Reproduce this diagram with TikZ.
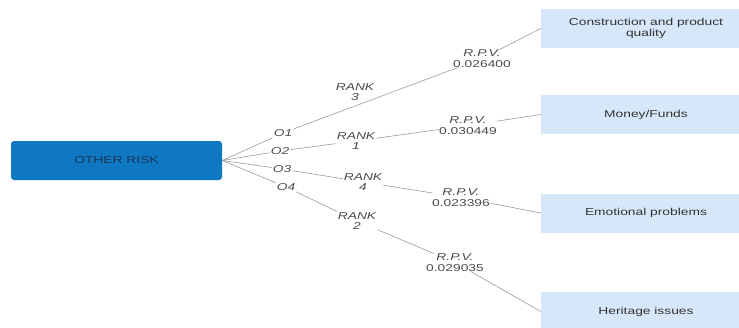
\documentclass[tikz,border=0pt]{standalone}
\usepackage{fontspec}
\setmainfont[FakeStretch=1.38]{Liberation Sans}
\definecolor{rootblue}{HTML}{0F78C2}
\definecolor{roottext}{HTML}{1B3555}
\definecolor{leafblue}{HTML}{D6E7F9}
\definecolor{txt}{HTML}{333333}
\definecolor{lbl}{HTML}{4A4A4A}
\definecolor{conn}{HTML}{9A9A9A}
\begin{document}
\begin{tikzpicture}[x=1pt,y=-1pt,
  every node/.style={font=\fontsize{10}{10.5}\selectfont},
  rootbox/.style={rectangle,rounded corners=3pt,fill=rootblue,text=roottext,minimum width=211pt,minimum height=39pt},
  leaf/.style={rectangle,fill=leafblue,text=txt,minimum width=210pt,minimum height=39pt,align=center},
  olabel/.style={text=lbl,inner sep=1pt,font=\fontsize{10}{10.5}\selectfont\itshape},
  ranklabel/.style={text=lbl,inner sep=1pt,align=center,font=\fontsize{10}{10.5}\selectfont\itshape},
  rpvlabel/.style={text=lbl,inner sep=0pt,align=center},
  connector/.style={draw=conn,line width=0.6pt}]
\useasboundingbox (0,0) rectangle (739,327);
\node[rootbox] (root) at (116.5,160.5) {OTHER RISK};
\node[leaf] (b1) at (646,28.5) {Construction and product\\quality};
\node[leaf] (b2) at (646,114.5) {Money/Funds};
\node[leaf] (b3) at (646,213) {Emotional problems};
\node[leaf] (b4) at (646,311.5) {Heritage issues};
\node[olabel] (o1) at (283,133) {O1};
\node[olabel] (o2) at (280,151) {O2};
\node[olabel] (o3) at (282,169) {O3};
\node[olabel] (o4) at (286,187) {O4};
\node[ranklabel] (r3) at (355,92) {RANK\\3};
\node[ranklabel] (r1) at (356,141) {RANK\\1};
\node[ranklabel] (r4) at (363,182) {RANK\\4};
\node[ranklabel] (r2) at (357,221) {RANK\\2};
\node[rpvlabel] (p1) at (482,58.5) {\textit{R.P.V.}\\0.026400};
\node[rpvlabel] (p2) at (468,125.5) {\textit{R.P.V.}\\0.030449};
\node[rpvlabel] (p3) at (461,197.5) {\textit{R.P.V.}\\0.023396};
\node[rpvlabel] (p4) at (455,262.5) {\textit{R.P.V.}\\0.029035};
\draw[connector] (root.east) -- (o1);
\draw[connector] (root.east) -- (o2);
\draw[connector] (root.east) -- (o3);
\draw[connector] (root.east) -- (o4);
\draw[connector] (o1) -- (p1);
\draw[connector] (o2) -- (r1);
\draw[connector] (o3) -- (r4);
\draw[connector] (o4) -- (r2);
\draw[connector] (r1) -- (p2);
\draw[connector] (r4) -- (p3);
\draw[connector] (r2) -- (p4);
\draw[connector] (p1) -- (b1.west);
\draw[connector] (p2) -- (b2.west);
\draw[connector] (p3) -- (b3.west);
\draw[connector] (p4) -- (b4.west);
\end{tikzpicture}
\end{document}
